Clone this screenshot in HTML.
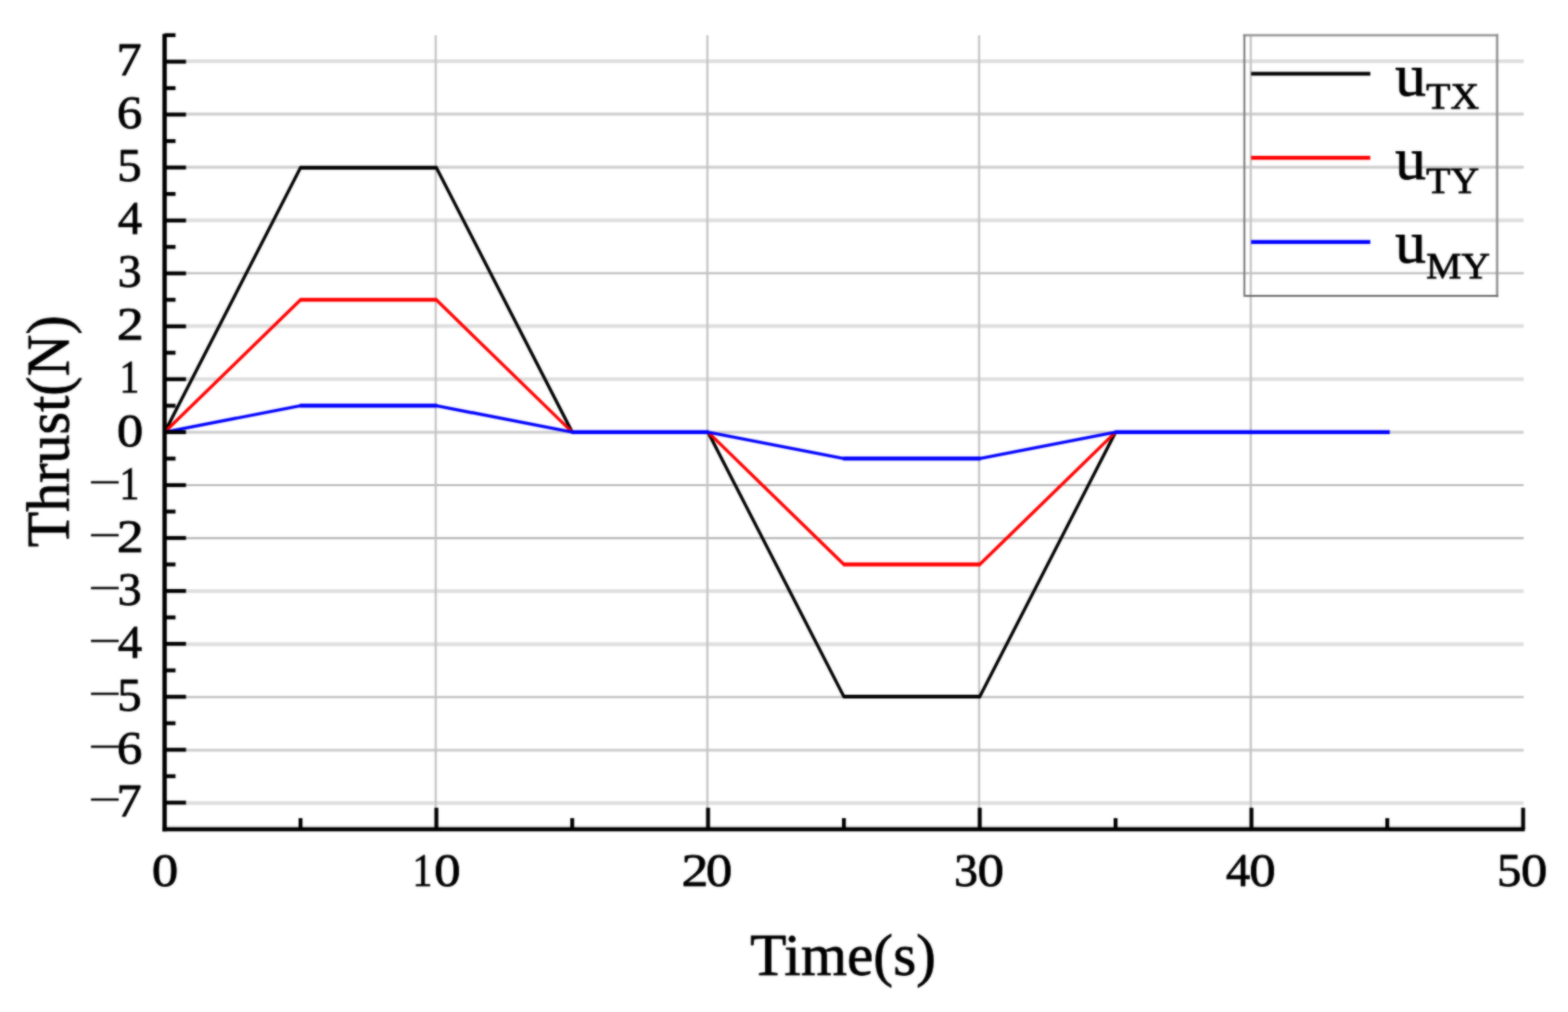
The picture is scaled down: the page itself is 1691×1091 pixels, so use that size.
<!DOCTYPE html>
<html lang="en">
<head>
<meta charset="utf-8">
<title>Thrust vs Time</title>
<style>
html,body{margin:0;padding:0;background:#fff;}
body{width:1691px;height:1091px;overflow:hidden;}
svg{display:block;}
text{font-family:"Liberation Serif",serif;fill:#000;stroke:#000;stroke-width:0.8px;stroke-linejoin:round;}
.tick{font-size:50.5px;}
.title{font-size:64px;}
.leg{font-size:64px;}
.sub{font-size:41px;}
.minus{font-size:40px;stroke-width:0.4px;}
</style>
</head>
<body>
<svg width="1691" height="1091" viewBox="0 0 1691 1091">
<defs><filter id="soft" x="0" y="0" width="1691" height="1091" filterUnits="userSpaceOnUse" color-interpolation-filters="sRGB"><feGaussianBlur in="SourceGraphic" stdDeviation="0.8" result="b"/><feComposite in="b" in2="SourceGraphic" operator="arithmetic" k1="0" k2="0.7" k3="0.3" k4="0"/></filter></defs>
<g filter="url(#soft)">
<rect x="0" y="0" width="1691" height="1091" fill="#ffffff"/>
<g fill="none">
<line x1="177.6" y1="865.8" x2="1643.2" y2="865.8" stroke="#dedede" stroke-width="4"/>
<line x1="177.6" y1="808.7" x2="1643.2" y2="808.7" stroke="#cccccc" stroke-width="3"/>
<line x1="177.6" y1="751.5" x2="1643.2" y2="751.5" stroke="#b6b6b6" stroke-width="2.2"/>
<line x1="177.6" y1="694.4" x2="1643.2" y2="694.4" stroke="#dedede" stroke-width="4"/>
<line x1="177.6" y1="637.3" x2="1643.2" y2="637.3" stroke="#dedede" stroke-width="4"/>
<line x1="177.6" y1="580.2" x2="1643.2" y2="580.2" stroke="#b6b6b6" stroke-width="2.2"/>
<line x1="177.6" y1="523.0" x2="1643.2" y2="523.0" stroke="#b6b6b6" stroke-width="2.2"/>
<line x1="177.6" y1="465.9" x2="1643.2" y2="465.9" stroke="#cccccc" stroke-width="3"/>
<line x1="177.6" y1="408.8" x2="1643.2" y2="408.8" stroke="#dedede" stroke-width="4"/>
<line x1="177.6" y1="351.6" x2="1643.2" y2="351.6" stroke="#dedede" stroke-width="4"/>
<line x1="177.6" y1="294.5" x2="1643.2" y2="294.5" stroke="#b6b6b6" stroke-width="2.2"/>
<line x1="177.6" y1="237.4" x2="1643.2" y2="237.4" stroke="#dedede" stroke-width="4"/>
<line x1="177.6" y1="180.2" x2="1643.2" y2="180.2" stroke="#cccccc" stroke-width="3"/>
<line x1="177.6" y1="123.1" x2="1643.2" y2="123.1" stroke="#cccccc" stroke-width="3"/>
<line x1="177.6" y1="66.0" x2="1643.2" y2="66.0" stroke="#dedede" stroke-width="4"/>
</g>
<g stroke="#c4c4c4" stroke-width="2.3" fill="none">
<line x1="469.9" y1="38.0" x2="469.9" y2="894.1"/>
<line x1="762.9" y1="38.0" x2="762.9" y2="894.1"/>
<line x1="1055.9" y1="38.0" x2="1055.9" y2="894.1"/>
<line x1="1348.9" y1="38.0" x2="1348.9" y2="894.1"/>
</g>
<line x1="177.6" y1="891.2" x2="1642" y2="891.2" stroke="#c4c4c4" stroke-width="1.6"/>
<clipPath id="plot"><rect x="177.5" y="30" width="1500" height="870"/></clipPath>
<g clip-path="url(#plot)">
<g fill="none" stroke="#000000">
<polyline stroke-width="3.4" stroke-linejoin="miter" points="177.6,465.9 324.1,180.8 470.6,180.8 617.1,465.9"/>
<polyline stroke-width="3.4" stroke-linejoin="miter" points="763.6,465.9 910.1,751.0 1056.6,751.0 1203.1,465.9"/>
<line stroke-width="4.1" x1="323.3" y1="180.8" x2="471.4" y2="180.8"/>
<line stroke-width="4.1" x1="909.3" y1="751.0" x2="1057.4" y2="751.0"/>
</g>
<g fill="none" stroke="#ff0000">
<polyline stroke-width="3.4" stroke-linejoin="miter" points="177.6,465.9 324.1,323.3 470.6,323.3 617.1,465.9"/>
<polyline stroke-width="3.4" stroke-linejoin="miter" points="763.6,465.9 910.1,608.5 1056.6,608.5 1203.1,465.9"/>
<line stroke-width="4.1" x1="323.3" y1="323.3" x2="471.4" y2="323.3"/>
<line stroke-width="4.1" x1="909.3" y1="608.5" x2="1057.4" y2="608.5"/>
</g>
<g fill="none" stroke="#0000ff">
<polyline stroke-width="3.4" stroke-linejoin="miter" points="177.6,465.9 324.1,437.4 470.6,437.4 617.1,465.9 763.6,465.9 910.1,494.4 1056.6,494.4 1203.1,465.9 1496.1,465.9"/>
<line stroke-width="4.1" x1="323.3" y1="437.4" x2="471.4" y2="437.4"/>
<line stroke-width="4.1" x1="616.3" y1="465.9" x2="764.4" y2="465.9"/>
<line stroke-width="4.1" x1="909.3" y1="494.4" x2="1057.4" y2="494.4"/>
<line stroke-width="4.1" x1="1202.3" y1="465.9" x2="1498.8" y2="465.9"/>
</g>
</g>
<g stroke="#000" stroke-width="4.7" fill="none" stroke-linecap="butt">
<line x1="177.5" y1="36.6" x2="177.5" y2="896.2"/>
<line x1="175.2" y1="894.1" x2="1644.4" y2="894.1" stroke-width="4.2"/>
</g>
<g stroke="#000" stroke-width="4.2" fill="none" stroke-linecap="butt">
<line x1="177.5" y1="865.3" x2="200.6" y2="865.3"/>
<line x1="177.5" y1="836.8" x2="189.3" y2="836.8"/>
<line x1="177.5" y1="808.3" x2="200.6" y2="808.3"/>
<line x1="177.5" y1="779.7" x2="189.3" y2="779.7"/>
<line x1="177.5" y1="751.2" x2="200.6" y2="751.2"/>
<line x1="177.5" y1="722.7" x2="189.3" y2="722.7"/>
<line x1="177.5" y1="694.1" x2="200.6" y2="694.1"/>
<line x1="177.5" y1="665.6" x2="189.3" y2="665.6"/>
<line x1="177.5" y1="637.1" x2="200.6" y2="637.1"/>
<line x1="177.5" y1="608.5" x2="189.3" y2="608.5"/>
<line x1="177.5" y1="580.0" x2="200.6" y2="580.0"/>
<line x1="177.5" y1="551.5" x2="189.3" y2="551.5"/>
<line x1="177.5" y1="523.0" x2="200.6" y2="523.0"/>
<line x1="177.5" y1="494.4" x2="189.3" y2="494.4"/>
<line x1="177.5" y1="465.9" x2="200.6" y2="465.9"/>
<line x1="177.5" y1="437.4" x2="189.3" y2="437.4"/>
<line x1="177.5" y1="408.8" x2="200.6" y2="408.8"/>
<line x1="177.5" y1="380.3" x2="189.3" y2="380.3"/>
<line x1="177.5" y1="351.8" x2="200.6" y2="351.8"/>
<line x1="177.5" y1="323.2" x2="189.3" y2="323.2"/>
<line x1="177.5" y1="294.7" x2="200.6" y2="294.7"/>
<line x1="177.5" y1="266.2" x2="189.3" y2="266.2"/>
<line x1="177.5" y1="237.7" x2="200.6" y2="237.7"/>
<line x1="177.5" y1="209.1" x2="189.3" y2="209.1"/>
<line x1="177.5" y1="180.6" x2="200.6" y2="180.6"/>
<line x1="177.5" y1="152.1" x2="189.3" y2="152.1"/>
<line x1="177.5" y1="123.5" x2="200.6" y2="123.5"/>
<line x1="177.5" y1="95.0" x2="189.3" y2="95.0"/>
<line x1="177.5" y1="66.5" x2="200.6" y2="66.5"/>
<line x1="177.5" y1="37.9" x2="189.3" y2="37.9"/>
<line x1="324.1" y1="894.1" x2="324.1" y2="882.0"/>
<line x1="470.6" y1="894.1" x2="470.6" y2="870.8"/>
<line x1="617.1" y1="894.1" x2="617.1" y2="882.0"/>
<line x1="763.6" y1="894.1" x2="763.6" y2="870.8"/>
<line x1="910.1" y1="894.1" x2="910.1" y2="882.0"/>
<line x1="1056.6" y1="894.1" x2="1056.6" y2="870.8"/>
<line x1="1203.1" y1="894.1" x2="1203.1" y2="882.0"/>
<line x1="1349.6" y1="894.1" x2="1349.6" y2="870.8"/>
<line x1="1496.1" y1="894.1" x2="1496.1" y2="882.0"/>
<line x1="1642.6" y1="894.1" x2="1642.6" y2="870.8"/>
</g>
<g class="tick">
<text y="81.1"><tspan x="125.56" textLength="27.27" lengthAdjust="spacingAndGlyphs">7</tspan></text>
<text y="138.1"><tspan x="126.08" textLength="27.52" lengthAdjust="spacingAndGlyphs">6</tspan></text>
<text y="195.2"><tspan x="126.57" textLength="26.26" lengthAdjust="spacingAndGlyphs">5</tspan></text>
<text y="252.3"><tspan x="126.96" textLength="26.26" lengthAdjust="spacingAndGlyphs">4</tspan></text>
<text y="309.3"><tspan x="127.09" textLength="25.75" lengthAdjust="spacingAndGlyphs">3</tspan></text>
<text y="366.4"><tspan x="126.00" textLength="29.04" lengthAdjust="spacingAndGlyphs">2</tspan></text>
<text y="423.4"><tspan x="129.00" textLength="21.21" lengthAdjust="spacingAndGlyphs">1</tspan></text>
<text y="480.5"><tspan x="125.93" textLength="28.53" lengthAdjust="spacingAndGlyphs">0</tspan></text>
<text x="95.2" y="537.6"><tspan class="minus" dy="-4.6" textLength="35.6" lengthAdjust="spacingAndGlyphs">−</tspan><tspan dy="4.6" x="129.00" textLength="21.21" lengthAdjust="spacingAndGlyphs">1</tspan></text>
<text x="95.2" y="594.6"><tspan class="minus" dy="-4.6" textLength="35.6" lengthAdjust="spacingAndGlyphs">−</tspan><tspan dy="4.6" x="126.00" textLength="29.04" lengthAdjust="spacingAndGlyphs">2</tspan></text>
<text x="95.2" y="651.7"><tspan class="minus" dy="-4.6" textLength="35.6" lengthAdjust="spacingAndGlyphs">−</tspan><tspan dy="4.6" x="127.09" textLength="25.75" lengthAdjust="spacingAndGlyphs">3</tspan></text>
<text x="95.2" y="708.7"><tspan class="minus" dy="-4.6" textLength="35.6" lengthAdjust="spacingAndGlyphs">−</tspan><tspan dy="4.6" x="126.96" textLength="26.26" lengthAdjust="spacingAndGlyphs">4</tspan></text>
<text x="95.2" y="765.8"><tspan class="minus" dy="-4.6" textLength="35.6" lengthAdjust="spacingAndGlyphs">−</tspan><tspan dy="4.6" x="126.57" textLength="26.26" lengthAdjust="spacingAndGlyphs">5</tspan></text>
<text x="95.2" y="822.9"><tspan class="minus" dy="-4.6" textLength="35.6" lengthAdjust="spacingAndGlyphs">−</tspan><tspan dy="4.6" x="126.08" textLength="27.52" lengthAdjust="spacingAndGlyphs">6</tspan></text>
<text x="95.2" y="879.9"><tspan class="minus" dy="-4.6" textLength="35.6" lengthAdjust="spacingAndGlyphs">−</tspan><tspan dy="4.6" x="125.56" textLength="27.27" lengthAdjust="spacingAndGlyphs">7</tspan></text>
</g>
<g class="tick">
<text y="954.8"><tspan x="163.83" textLength="28.53" lengthAdjust="spacingAndGlyphs">0</tspan></text>
<text y="954.8"><tspan x="445.00" textLength="21.21" lengthAdjust="spacingAndGlyphs">1</tspan><tspan x="468.33" textLength="28.53" lengthAdjust="spacingAndGlyphs">0</tspan></text>
<text y="954.8"><tspan x="735.00" textLength="29.04" lengthAdjust="spacingAndGlyphs">2</tspan><tspan x="761.33" textLength="28.53" lengthAdjust="spacingAndGlyphs">0</tspan></text>
<text y="954.8"><tspan x="1029.09" textLength="25.75" lengthAdjust="spacingAndGlyphs">3</tspan><tspan x="1054.33" textLength="28.53" lengthAdjust="spacingAndGlyphs">0</tspan></text>
<text y="954.8"><tspan x="1321.96" textLength="26.26" lengthAdjust="spacingAndGlyphs">4</tspan><tspan x="1347.33" textLength="28.53" lengthAdjust="spacingAndGlyphs">0</tspan></text>
<text y="954.8"><tspan x="1614.57" textLength="26.26" lengthAdjust="spacingAndGlyphs">5</tspan><tspan x="1640.33" textLength="28.53" lengthAdjust="spacingAndGlyphs">0</tspan></text>
</g>
<text class="title" text-anchor="middle" x="909.2" y="1051.3" style="font-size:64px">Time(s)</text>
<text class="title" text-anchor="middle" transform="translate(74.0,464.9) rotate(-90) scale(0.955,1)" style="font-size:65.5px">Thrust(N)</text>
<g fill="none" stroke-linecap="square">
<line x1="1342" y1="38" x2="1614.6" y2="38" stroke="#969696" stroke-width="2.6"/>
<line x1="1614.6" y1="38" x2="1614.6" y2="319" stroke="#909090" stroke-width="2.5"/>
<line x1="1342" y1="319" x2="1614.6" y2="319" stroke="#666666" stroke-width="2.1"/>
<line x1="1342" y1="38" x2="1342" y2="319" stroke="#808080" stroke-width="2.2"/>
</g>
<line x1="1349.3" y1="79.5" x2="1477.8" y2="79.5" stroke="#000000" stroke-width="4.2"/>
<text class="leg" transform="translate(1504.6,102.6) scale(1.045,1)">u<tspan class="sub" dy="14.5">TX</tspan></text>
<line x1="1349.3" y1="170.2" x2="1477.8" y2="170.2" stroke="#ff0000" stroke-width="4.2"/>
<text class="leg" transform="translate(1504.6,192.8) scale(1.045,1)">u<tspan class="sub" dy="15.5">TY</tspan></text>
<line x1="1349.3" y1="260.9" x2="1477.8" y2="260.9" stroke="#0000ff" stroke-width="4.2"/>
<text class="leg" transform="translate(1504.6,283.0) scale(1.045,1)">u<tspan class="sub" dy="16.5">MY</tspan></text>
</g>
</svg>
</body>
</html>
